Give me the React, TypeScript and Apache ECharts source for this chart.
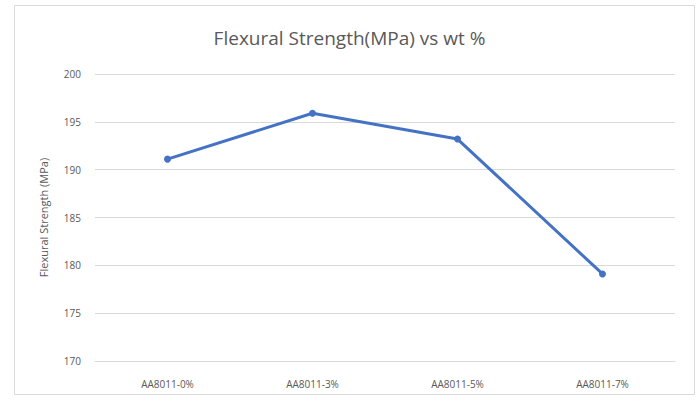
import React, { useEffect, useRef } from "react";
import * as echarts from "echarts";

const categories = ["AA8011-0%", "AA8011-3%", "AA8011-5%", "AA8011-7%"];
const strength = [191.1, 195.9, 193.2, 179.1];
const yMin = 170;
const yMax = 200;
const yStep = 5;

export default function App() {
  const ref = useRef<HTMLDivElement>(null);
  useEffect(() => {
    if (!ref.current) return;
    const chart = echarts.init(ref.current, undefined, { renderer: "svg" });
    chart.setOption({
      animation: false,
      backgroundColor: "#ffffff",
      textStyle: { fontFamily: "Open Sans" },
      title: {
        text: "Flexural Strength(MPa) vs wt %",
        left: "center",
        top: 23,
        textStyle: { fontFamily: "Open Sans", fontSize: 19, fontWeight: "normal", color: "#595959" },
      },
      graphic: [
        {
          type: "rect",
          shape: { x: 14.5, y: 5.5, width: 680, height: 389 },
          style: { fill: "none", stroke: "#d9d9d9", lineWidth: 1 },
          silent: true,
        },
      ],
      grid: { left: 95, right: 24, top: 74, bottom: 40 },
      xAxis: {
        type: "category",
        data: categories,
        boundaryGap: true,
        axisLine: { show: true, lineStyle: { color: "#d9d9d9" } },
        axisTick: { show: false },
        axisLabel: { color: "#595959", fontSize: 10, margin: 18 },
      },
      yAxis: {
        type: "value",
        min: yMin,
        max: yMax,
        interval: yStep,
        name: "Flexural Strength (MPa)",
        nameLocation: "middle",
        nameGap: 46,
        nameTextStyle: { color: "#595959", fontSize: 11 },
        axisLine: { show: false },
        axisTick: { show: false },
        axisLabel: { color: "#595959", fontSize: 10, margin: 14 },
        splitLine: { lineStyle: { color: "#d9d9d9" } },
      },
      series: [
        {
          type: "line",
          data: strength,
          symbol: "circle",
          symbolSize: 7,
          lineStyle: { color: "#4472C4", width: 3 },
          itemStyle: { color: "#4472C4" },
        },
      ],
    });
    return () => chart.dispose();
  }, []);
  return <div ref={ref} style={{ width: 699, height: 401, position: "absolute", left: 0, top: 0 }} />;
}
